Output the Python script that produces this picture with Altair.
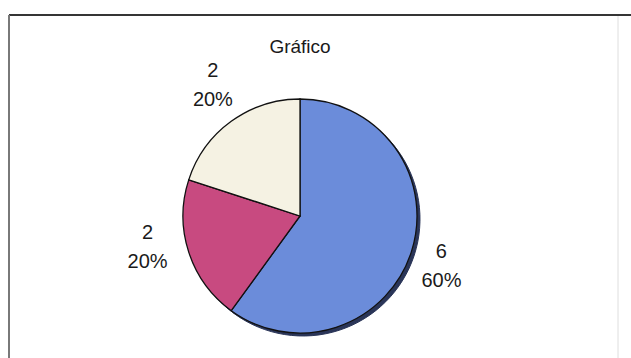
import altair as alt
import pandas as pd

# Data
categories = ["A", "B", "C"]
values = [6, 2, 2]
slice_order = [0, 1, 2]
colors = ["#6B8CDA", "#C84A80", "#F5F2E3"]
title_text = "Gráfico"

total = sum(values)
pct_labels = [f"{round(v / total * 100)}%" for v in values]
val_labels = [str(v) for v in values]

df = pd.DataFrame({
    "cat": categories,
    "value": values,
    "ord": slice_order,
    "val_label": val_labels,
    "pct_label": pct_labels,
})

CX, CY, R = 300, 216, 117

base = alt.Chart(df).encode(
    theta=alt.Theta("value:Q", stack=True),
    order=alt.Order("ord:O"),
)

shadow = base.mark_arc(radius=R, fill="#2A3558", stroke="#2A3558", strokeWidth=1).encode(
    x=alt.value(CX + 3), y=alt.value(CY + 3)
)

pie = base.mark_arc(radius=R, stroke="#111111", strokeWidth=1.3).encode(
    color=alt.Color("cat:N", scale=alt.Scale(domain=categories, range=colors), legend=None),
    x=alt.value(CX), y=alt.value(CY),
)

# label nudges (style only), per slice, like Excel's best-fit placement
nudges = {"A": (-6, 2), "B": (-5, -17), "C": (4, -6)}

lab_base = alt.Chart(df).transform_window(
    cum="sum(value)", sort=[alt.SortField("ord")], frame=[None, 0]
).transform_calculate(mid="datum.cum - datum.value / 2")

label_layers = []
for cat in categories:
    ndx, ndy = nudges[cat]
    lab_style = dict(radius=155, font="Liberation Sans", fontSize=20, color="#1a1a1a",
                     align="center", baseline="middle", dx=ndx)
    sub = lab_base.transform_filter(alt.datum.cat == cat).encode(
        theta=alt.Theta("mid:Q", stack=False,
                        scale=alt.Scale(domain=[0, total], range=[0, 6.283185307])),
        x=alt.value(CX), y=alt.value(CY),
    )
    label_layers.append(sub.mark_text(dy=-14 + ndy, **lab_style).encode(text="val_label:N"))
    label_layers.append(sub.mark_text(dy=15 + ndy, **lab_style).encode(text="pct_label:N"))

labels = alt.layer(*label_layers)

title = alt.Chart(pd.DataFrame({"t": [title_text]})).mark_text(
    font="Liberation Sans", fontSize=19, color="#1a1a1a", align="center", baseline="middle"
).encode(text="t:N", x=alt.value(CX), y=alt.value(47))

top_line = alt.Chart(df).mark_rule(color="#333333", strokeWidth=1.5).encode(
    x=alt.value(9), x2=alt.value(631), y=alt.value(15)
)
left_line = alt.Chart(df).mark_rule(color="#777777", strokeWidth=1.5).encode(
    x=alt.value(9), y=alt.value(15), y2=alt.value(358)
)
right_line = alt.Chart(df).mark_rule(color="#ececec", strokeWidth=1).encode(
    x=alt.value(618), y=alt.value(16), y2=alt.value(358)
)

chart = alt.layer(
    top_line, left_line, right_line, shadow, pie, labels, title
).resolve_scale(theta="independent").properties(
    width=631, height=358, padding=0, autosize="none", background="white"
).configure_view(stroke=None)

chart.save("out.html", embed_options={"renderer": "svg", "actions": False})
